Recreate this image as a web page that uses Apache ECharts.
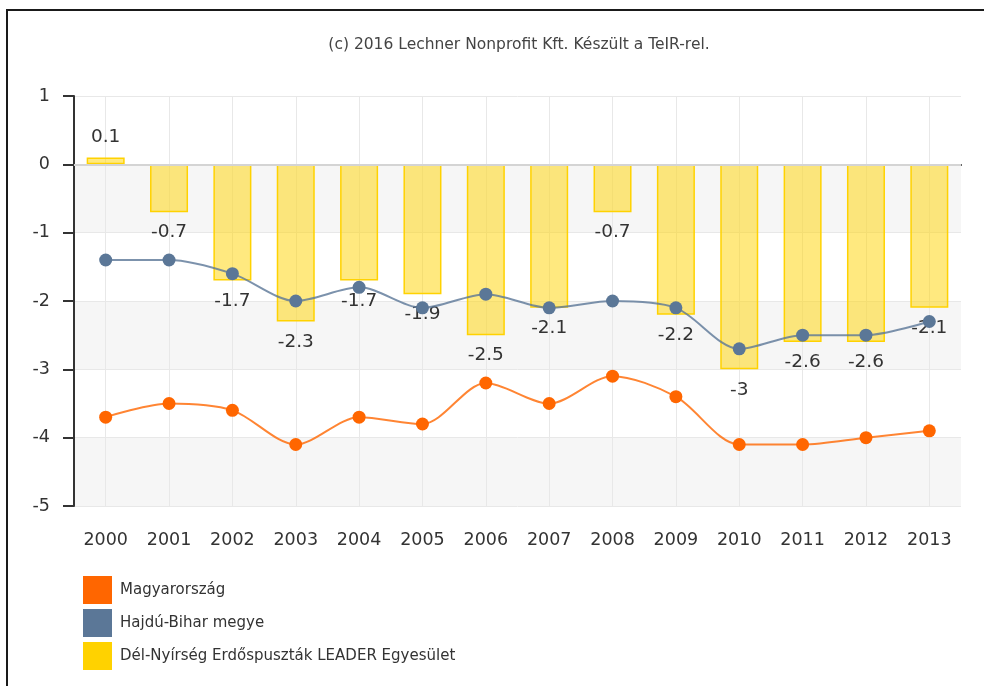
<!DOCTYPE html>
<html>
<head>
    <meta charset="utf-8">
    <title>Lechner TeIR chart</title>
    <script src="https://cdn.jsdelivr.net/npm/echarts@6/dist/echarts.min.js"></script>
    <style>
        body { margin: 0; }
        #chart { width: 984px; height: 686px; }
    </style>
</head>
<body>
    <div id="chart"></div>
    <script>
        // data
        var years = ['2000', '2001', '2002', '2003', '2004', '2005', '2006',
                     '2007', '2008', '2009', '2010', '2011', '2012', '2013'];
        var magyarorszag = [-3.7, -3.5, -3.6, -4.1, -3.7, -3.8, -3.2, -3.5, -3.1, -3.4, -4.1, -4.1, -4.0, -3.9];
        var hajduBihar = [-1.4, -1.4, -1.6, -2.0, -1.8, -2.1, -1.9, -2.1, -2.0, -2.1, -2.7, -2.5, -2.5, -2.3];
        var leader = [0.1, -0.7, -1.7, -2.3, -1.7, -1.9, -2.5, -2.1, -0.7, -2.2, -3, -2.6, -2.6, -2.1];

        var seriesNames = ['Magyarország', 'Hajdú-Bihar megye', 'Dél-Nyírség Erdőspuszták LEADER Egyesület'];
        var font = 'DejaVu Sans';

        var chart = echarts.init(document.getElementById('chart'));

        var option = {
          animation: false,
          textStyle: { fontFamily: font },
          graphic: [
            {
              type: 'rect',
              shape: { x: 7, y: 10, width: 1000, height: 700 },
              style: { fill: 'none', stroke: '#1a1a1a', lineWidth: 2 },
              z: 100
            },
            {
              type: 'text',
              x: 519,
              y: 45,
              style: {
                text: '(c) 2016 Lechner Nonprofit Kft. Készült a TeIR-rel.',
                font: '15.5px "DejaVu Sans"',
                fill: '#444',
                align: 'center',
                verticalAlign: 'middle'
              }
            }
          ],
          legend: {
            orient: 'vertical',
            left: 78,
            top: 571,
            itemWidth: 29,
            itemHeight: 28,
            itemGap: 5,
            icon: 'rect',
            data: [
              { name: seriesNames[0] },
              { name: seriesNames[1] },
              { name: seriesNames[2], itemStyle: { color: '#ffd200', borderWidth: 0 } }
            ],
            textStyle: { fontFamily: font, fontSize: 15, color: '#333', padding: [0, 0, 0, 3] }
          },
          grid: { left: 74, right: 23, top: 96, bottom: 180 },
          xAxis: {
            type: 'category',
            data: years,
            axisLine: { lineStyle: { color: '#333', width: 2 } },
            axisTick: { alignWithLabel: true, length: 8, lineStyle: { color: '#333', width: 2 } },
            axisLabel: { fontSize: 17.5, color: '#333', margin: 25 },
            splitLine: { show: true, alignWithLabel: true, lineStyle: { color: '#e8e8e8' } }
          },
          yAxis: {
            type: 'value',
            min: -5,
            max: 1,
            interval: 1,
            axisLine: { show: true, lineStyle: { color: '#333', width: 2 } },
            axisTick: { show: true, length: 11, lineStyle: { color: '#333', width: 2 } },
            axisLabel: { fontSize: 17.5, color: '#333', margin: 24 },
            splitLine: { lineStyle: { color: '#e8e8e8' } },
            splitArea: { show: true, areaStyle: { color: ['#f6f6f6', '#ffffff'] } }
          },
          series: [
            {
              name: seriesNames[2],
              type: 'bar',
              data: leader,
              barWidth: '60%',
              itemStyle: { color: 'rgba(255, 212, 0, 0.5)', borderColor: '#ffd200', borderWidth: 1.5 },
              label: { show: true, position: 'outside', distance: 11, fontSize: 18.5, color: '#333' },
              markLine: {
                silent: true,
                symbol: 'none',
                label: { show: false },
                lineStyle: { color: '#d4d4d4', width: 2, type: 'solid' },
                data: [{ yAxis: 0 }]
              },
              z: 2
            },
            {
              name: seriesNames[1],
              type: 'line',
              data: hajduBihar,
              smooth: 0.3,
              symbol: 'circle',
              symbolSize: 13,
              lineStyle: { width: 2, opacity: 0.8 },
              itemStyle: { color: '#5b7797' },
              z: 3
            },
            {
              name: seriesNames[0],
              type: 'line',
              data: magyarorszag,
              smooth: 0.3,
              symbol: 'circle',
              symbolSize: 13,
              lineStyle: { width: 2, opacity: 0.8 },
              itemStyle: { color: '#ff6600' },
              z: 3
            }
          ]
        };
        chart.setOption(option);
    </script>
</body>
</html>
